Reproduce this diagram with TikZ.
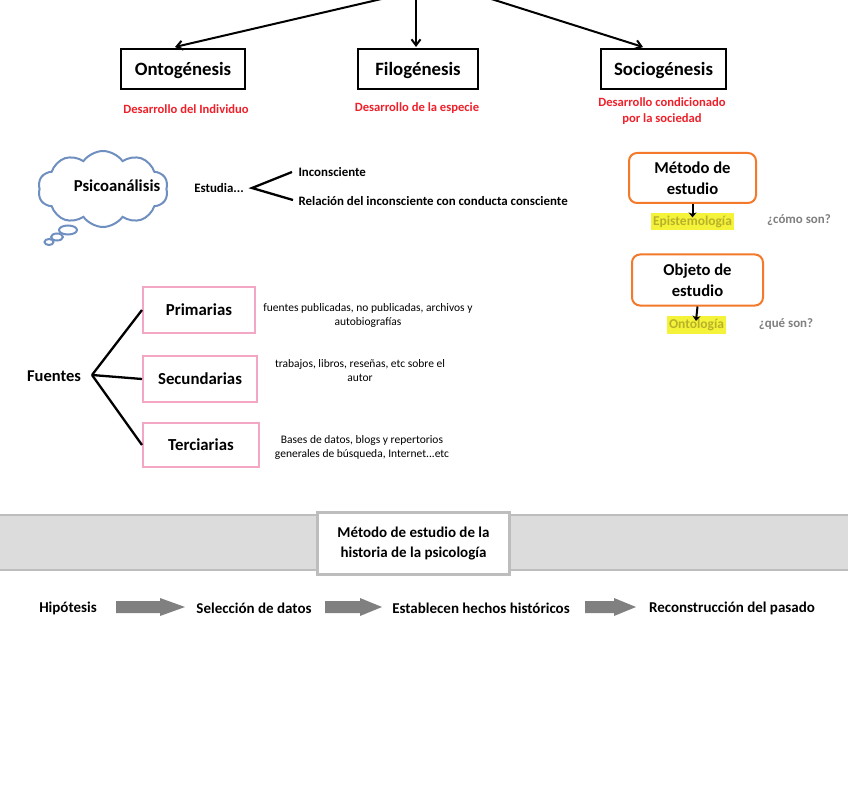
\documentclass[tikz,border=0pt]{standalone}
\usepackage{fontspec}
\setmainfont{Carlito}
\usetikzlibrary{arrows.meta,shapes.symbols,shapes.geometric}
\definecolor{redtxt}{HTML}{F0202A}
\definecolor{cloudblue}{HTML}{6F8FC0}
\definecolor{orangeb}{HTML}{F4792B}
\definecolor{pinkb}{HTML}{F4A7C4}
\definecolor{hl}{HTML}{F5F23A}
\definecolor{hltxt}{HTML}{B8B22A}
\definecolor{graytxt}{HTML}{7F7F7F}
\definecolor{bandgray}{HTML}{DCDCDC}
\definecolor{bandline}{HTML}{BDBDBD}
\definecolor{arrowgray}{HTML}{808080}
\tikzset{
  topbox/.style={draw=black,line width=2pt,minimum height=40pt,text depth=0pt,font=\fontsize{18.8}{20}\selectfont\bfseries},
  redlabel/.style={text=redtxt,font=\fontsize{12.6}{15.5}\selectfont\bfseries,align=center},
  bigarrow/.style={-{Straight Barb[length=6pt,width=9pt]},line width=2pt},
  orangebox/.style={draw=orangeb,line width=2pt,rounded corners=8pt,align=center,font=\fontsize{16.6}{21}\selectfont\bfseries},
  hlbox/.style={fill=hl,text=hltxt,font=\fontsize{13.5}{14}\selectfont\bfseries,inner xsep=2pt,inner ysep=3pt},
  qtext/.style={text=graytxt,font=\fontsize{12.9}{14}\selectfont\bfseries},
  smallarrow/.style={-{Stealth[length=5pt,width=8pt]},line width=2pt,shorten >=-5pt},
  pinkbox/.style={draw=pinkb,line width=2pt,text depth=0pt,font=\fontsize{16.8}{18}\selectfont\bfseries},
  desc/.style={font=\fontsize{11.5}{14}\selectfont,align=center},
  branch/.style={line width=2.3pt},
  steptext/.style={font=\fontsize{15}{17}\selectfont\bfseries},
  grayarrow/.style={fill=arrowgray,draw=none},
  bodytext/.style={font=\fontsize{12.9}{15}\selectfont\bfseries},
}
\begin{document}
\begin{tikzpicture}[x=1pt,y=-1pt]
\useasboundingbox (0,0) rectangle (848,786);
\fill[white] (0,0) rectangle (848,786);

% top boxes
\node[topbox,minimum width=124pt] (onto) at (183,69) {Ontogénesis};
\node[topbox,minimum width=120pt] (filo) at (418,69) {Filogénesis};
\node[topbox,minimum width=125pt] (socio) at (663.5,69) {Sociogénesis};
\coordinate (tl) at (390,-3);
\coordinate (tm) at (416,-3);
\coordinate (tr) at (485,-3);
\draw[bigarrow] (tl) -- (175,47);
\draw[bigarrow] (tm) -- (416,47);
\draw[bigarrow] (tr) -- (643,47);

\node[redlabel] (ontolab) at (186,109) {Desarrollo del Individuo};
\node[redlabel] (filolab) at (417,108) {Desarrollo de la especie};
\node[redlabel] (sociolab) at (662,111) {Desarrollo condicionado\\por la sociedad};

% cloud
\node[cloud,cloud puffs=10,cloud puff arc=110,aspect=1.9,draw=cloudblue,line width=2pt,minimum width=130pt,minimum height=76pt,inner sep=0pt] (cloud) at (103,189) {};
\node[font=\fontsize{16.7}{18}\selectfont\bfseries] (psico) at (117,186) {Psicoanálisis};
\draw[cloudblue,line width=2pt,fill=white] (68,230) ellipse (9pt and 4.5pt);
\draw[cloudblue,line width=2pt,fill=white] (57,237) ellipse (6pt and 3.5pt);
\draw[cloudblue,line width=2pt,fill=white] (49,242) ellipse (4.5pt and 3pt);

\node[bodytext] (estudia) at (219,188) {Estudia...};
\coordinate (ev) at (252,188);
\node[bodytext,anchor=west] (incon) at (295,172) {Inconsciente};
\node[bodytext,anchor=west] (rel) at (295,201) {Relación del inconsciente con conducta consciente};
\draw[branch] (292,172) -- (ev) -- (293,200);

% right method boxes
\node[orangebox,minimum width=127pt,minimum height=50pt] (metodo) at (692.5,178) {};
\node[orangebox,draw=none] (metodotxt) at (692.5,178) {Método de\\estudio};
\node[hlbox] (episte) at (692.5,221.5) {Epistemología};
\draw[smallarrow] (metodo.south) -- (episte.north);
\node[qtext] (como) at (799,220) {¿cómo son?};
\node[orangebox,minimum width=131pt,minimum height=51pt] (objeto) at (697.5,280) {};
\node[orangebox,draw=none] (objetotxt) at (697.5,280.5) {Objeto de\\estudio};
\node[hlbox] (onto2) at (696.5,325) {Ontología};
\draw[smallarrow] (objeto.south) -- (onto2.north);
\node[qtext] (que) at (786,324) {¿qué son?};

% fuentes
\node[font=\fontsize{16.5}{18}\selectfont\bfseries] (fuentes) at (54,376) {Fuentes};
\coordinate (fv) at (92,375);
\node[pinkbox,minimum width=112pt,minimum height=46pt] (prim) at (199,310) {Primarias};
\node[pinkbox,minimum width=114pt,minimum height=46pt] (secu) at (200,379) {Secundarias};
\node[pinkbox,minimum width=116pt,minimum height=44pt] (terc) at (201,445) {Terciarias};
\draw[branch] (fv) -- (prim.west);
\draw[branch] (fv) -- (secu.west);
\draw[branch] (fv) -- (terc.west);
\node[desc] (pdesc) at (368,315) {fuentes publicadas, no publicadas, archivos y\\autobiografías};
\node[desc] (sdesc) at (360,371) {trabajos, libros, reseñas, etc sobre el\\autor};
\node[desc] (tdesc) at (362,447) {Bases de datos, blogs y repertorios\\generales de búsqueda, Internet...etc};

% band
\draw[fill=bandgray,draw=bandline,line width=1.5pt] (-2,515) rectangle (850,570);
\node[draw=bandline,line width=2.5pt,fill=white,minimum width=192pt,minimum height=62pt,align=center,font=\fontsize{15}{19.5}\selectfont\bfseries] (hist) at (413.5,543.5) {Método de estudio de la\\historia de la psicología};

% steps
\node[steptext] (hip) at (68,608) {Hipótesis};
\node[steptext] (sel) at (254,608) {Selección de datos};
\node[steptext] (est) at (481,608) {Establecen hechos históricos};
\node[steptext] (rec) at (732,608) {Reconstrucción del pasado};
\fill[grayarrow] (116,601) -- (160,601) -- (160,598) -- (185,607) -- (160,616) -- (160,613) -- (116,613) -- cycle;
\fill[grayarrow] (325,601) -- (360,601) -- (360,598) -- (382,607) -- (360,616) -- (360,613) -- (325,613) -- cycle;
\fill[grayarrow] (585,601) -- (614,601) -- (614,598) -- (636,607) -- (614,616) -- (614,613) -- (585,613) -- cycle;
\end{tikzpicture}
\end{document}
